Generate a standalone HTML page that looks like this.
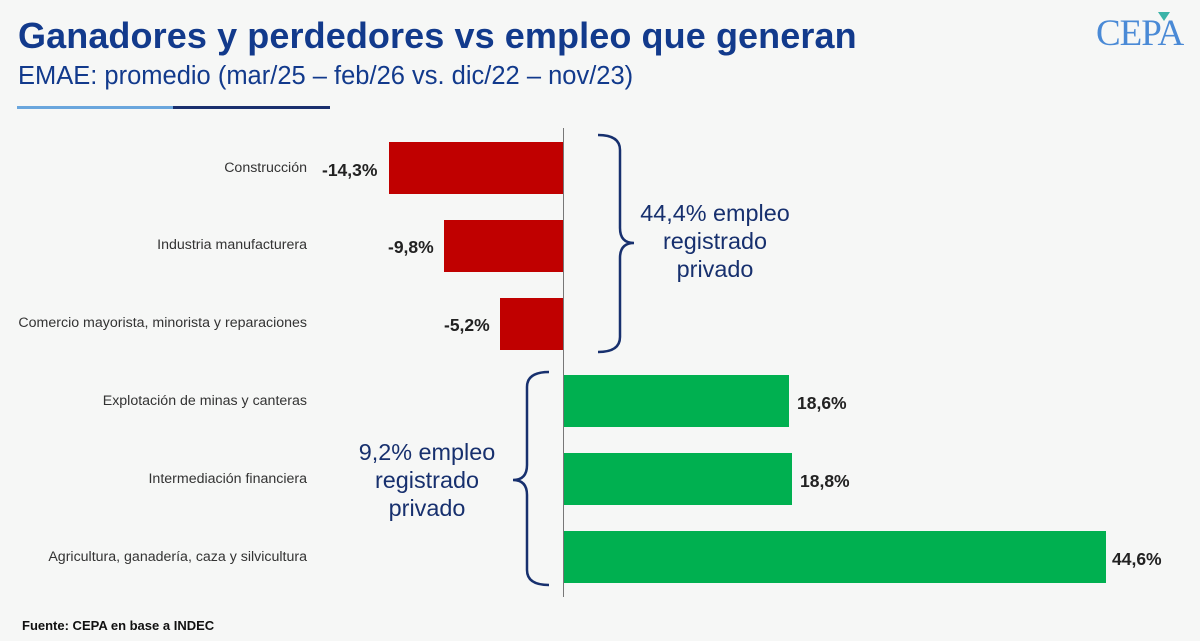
<!DOCTYPE html>
<html><head><meta charset="utf-8"><style>
body{margin:0;background:#f6f7f6;width:1200px;height:641px;overflow:hidden;position:relative;font-family:"Liberation Sans",Arial,sans-serif}
.t{position:absolute;left:18px;top:15px;font-size:36px;font-weight:bold;color:#123a8c;letter-spacing:0.1px}
.s{position:absolute;left:18px;top:62px;font-size:25.5px;color:#123a8c}
.lab{position:absolute;right:893px;font-size:14.2px;color:#333;white-space:nowrap}
.v{position:absolute;font-size:17.5px;font-weight:bold;color:#222}
.b{position:absolute;height:52px}
.br{position:absolute;font-size:23.4px;color:#17306e;text-align:center;line-height:28px}
</style></head><body>
<div class="t">Ganadores y perdedores vs empleo que generan</div>
<div class="s">EMAE: promedio (mar/25 – feb/26 vs. dic/22 – nov/23)</div>
<div style="position:absolute;left:17px;top:106px;width:156px;height:3px;background:#6aa6dd"></div>
<div style="position:absolute;left:173px;top:106px;width:157px;height:3px;background:#1a2f6e"></div>
<div style="position:absolute;left:1096px;top:12px;font-family:'Liberation Serif',serif;font-size:37px;color:#4a8ad6;letter-spacing:-1px">CEPA</div>
<div style="position:absolute;left:1158px;top:12px;width:0;height:0;border-left:6px solid transparent;border-right:6px solid transparent;border-top:9px solid #3bb3a8"></div>
<div style="position:absolute;left:563px;top:128px;width:1px;height:469px;background:#777"></div>

<div class="b" style="left:389px;top:142px;width:174px;background:#c00000"></div>
<div class="b" style="left:444px;top:220px;width:119px;background:#c00000"></div>
<div class="b" style="left:500px;top:298px;width:63px;background:#c00000"></div>
<div class="b" style="left:564px;top:375px;width:225px;background:#00b050"></div>
<div class="b" style="left:564px;top:453px;width:228px;background:#00b050"></div>
<div class="b" style="left:564px;top:531px;width:542px;background:#00b050"></div>

<div class="lab" style="top:160px">Construcción</div>
<div class="lab" style="top:237px">Industria manufacturera</div>
<div class="lab" style="top:315px">Comercio mayorista, minorista y reparaciones</div>
<div class="lab" style="top:393px">Explotación de minas y canteras</div>
<div class="lab" style="top:471px">Intermediación financiera</div>
<div class="lab" style="top:549px">Agricultura, ganadería, caza y silvicultura</div>

<div class="v" style="left:322px;top:160px">-14,3%</div>
<div class="v" style="left:388px;top:237px">-9,8%</div>
<div class="v" style="left:444px;top:315px">-5,2%</div>
<div class="v" style="left:797px;top:393px">18,6%</div>
<div class="v" style="left:800px;top:471px">18,8%</div>
<div class="v" style="left:1112px;top:549px">44,6%</div>

<svg style="position:absolute;left:0;top:0" width="1200" height="641">
<path d="M598,135 Q620,135 620,150 L620,228 Q620,243 634,243 Q620,243 620,258 L620,337 Q620,352 598,352" fill="none" stroke="#17306e" stroke-width="2.5"/>
<path d="M549,372 Q527,372 527,387 L527,465 Q527,480 513,480 Q527,480 527,495 L527,570 Q527,585 549,585" fill="none" stroke="#17306e" stroke-width="2.5"/>
</svg>
<div class="br" style="left:630px;top:199px;width:170px">44,4% empleo<br>registrado<br>privado</div>
<div class="br" style="left:350px;top:438px;width:154px">9,2% empleo<br>registrado<br>privado</div>
<div style="position:absolute;left:22px;top:618px;font-size:13px;font-weight:bold;color:#111">Fuente: CEPA en base a INDEC</div>
</body></html>
